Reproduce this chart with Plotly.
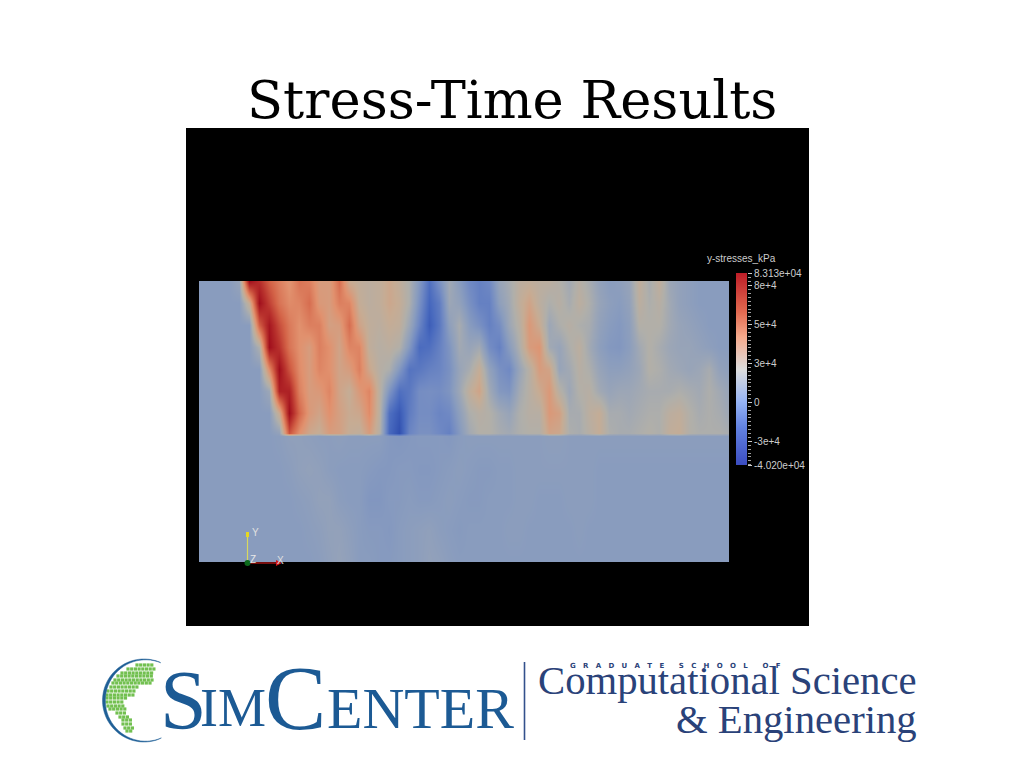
import math
import plotly.graph_objects as go

W, H = 1024, 768

# ---------- data (kPa in thousands) ----------
column_positions = [i * 10 for i in range(54)]
row_depths = [0, 22, 44, 66, 88, 110, 132, 152, 155, 189, 219, 249, 281]
stress_rows = [
 [0,0,0,0,6,83,72,56,46,38,50,46,34,34,52,26,22,20,22,28,22,14,-2,-22,-6,10,0,-10,-14,-10,6,12,20,22,20,20,16,10,18,12,4,0,2,6,22,12,22,8,4,2,0,0,0,0],
 [0,0,0,0,0,24,83,66,50,42,44,52,36,34,46,44,24,20,22,28,24,14,-6,-26,-16,8,4,-6,-14,-14,2,10,22,30,20,14,18,12,20,14,6,2,0,4,20,14,18,10,4,2,0,0,0,0],
 [0,0,0,0,0,0,56,80,62,48,40,46,46,32,34,52,30,22,20,24,22,8,-12,-30,-18,2,12,0,-6,-14,-8,8,18,36,26,8,14,18,14,12,4,0,-2,2,16,16,16,10,6,4,2,0,0,0],
 [0,0,0,0,0,0,14,83,70,50,40,34,46,40,30,44,44,22,18,20,16,-2,-24,-22,-14,-4,10,6,10,-8,-14,0,14,34,38,10,6,14,20,10,2,-2,-3,1,10,16,12,8,6,6,4,2,0,0],
 [0,0,0,0,0,0,0,42,83,60,42,34,44,40,30,34,46,28,18,14,-2,-20,-18,-14,-12,-6,6,12,24,4,-6,-10,6,18,34,30,6,10,18,14,6,2,2,4,8,16,14,10,8,6,8,12,4,2],
 [0,0,0,0,0,0,0,8,76,76,46,34,36,44,30,24,36,44,20,-4,-22,-18,-8,-7,-8,-4,8,22,30,10,-2,-4,10,18,26,36,18,8,16,18,10,6,8,8,10,12,12,12,14,12,10,14,10,6],
 [0,0,0,0,0,0,0,0,26,83,54,36,30,40,32,26,28,42,20,-22,-32,-16,-8,-8,-12,-10,2,14,18,16,10,6,14,18,18,36,32,12,12,20,24,12,12,10,12,14,14,20,22,16,12,14,12,8],
 [0,0,0,0,0,0,0,0,4,60,40,28,24,34,32,24,22,34,18,-25,-36,-12,-6,-6,-10,-14,-2,10,16,16,12,10,14,16,16,30,28,14,12,18,24,14,12,12,14,16,14,22,24,16,14,14,14,12],
 [0,0,0,0,0,0,0,0,1,3,3,2,1,1,2,1,1,1,1,-2,-3,-2,-1,-1,-1,-2,0,1,1,1,1,1,1,1,1,2,2,1,1,1,1,1,1,1,1,1,1,1,1,1,1,1,1,1],
 [0,0,0,0,0,0,0,0,0,1,3,4,3,1,0,0,0,-1,-2,-2,-1,-1,-2,-2,-1,0,1,0,-1,-1,0,0,1,1,1,1,1,1,1,1,0,0,0,0,0,0,0,0,0,0,0,0,0,0],
 [0,0,0,0,0,0,0,0,0,0,1,2,4,4,1,0,0,-3,-3,-1,-1,0,-1,-1,0,1,0,-1,-1,0,0,0,1,1,0,0,0,1,1,1,0,0,0,0,0,0,0,0,0,0,0,0,0,0],
 [0,0,0,0,0,0,0,0,0,0,0,1,2,4,4,2,0,-1,-1,-2,0,1,2,3,1,0,-1,0,0,0,0,1,1,0,0,0,0,0,1,0,0,0,0,0,0,0,0,0,0,0,0,0,0,0],
 [0,0,0,0,0,0,0,0,0,0,0,0,1,3,5,3,0,0,-1,-1,0,1,2,4,3,1,0,0,0,0,0,0,0,0,0,0,0,0,0,0,0,0,0,0,0,0,0,0,0,0,0,0,0,0],
]
assert all(len(r) == 54 for r in stress_rows) and len(stress_rows) == 13

stress_min, stress_max = -40.2, 83.13
colorbar_values = [-40200, -20000, 0, 10000, 21465, 35000, 50000, 65000, 83130]
colorbar_ticks = [83130, 75000, 50000, 25000, 0, -25000, -40200]
colorbar_labels = ["8.313e+04", "8e+4", "5e+4", "3e+4", "0", "-3e+4", "-4.020e+04"]
colorbar_title = "y-stresses_kPa"
title_text = "Stress-Time Results"

# green land cells of the logo globe: (row y, first x, last x) in page pixels
globe_rows = [(665,137,152),(669,128,155),(673,122,153),(676,118,152),(680,115,152),(683,113,152),
              (687,111,140),(691,108,135),(695,107,133),(698,107,128),(702,107,123),(706,108,123),
              (709,110,125),(713,117,127),(717,120,130),(720,123,132),(724,123,133),(728,125,135),(731,127,133)]

# ---------- helpers ----------
px = lambda x: x / W
py = lambda y: 1 - y / H

def muted(v):
    return (v - stress_min) / (stress_max - stress_min)

plot_scale = [
    [muted(-40.2), "rgb(40,70,170)"],
    [muted(-25), "rgb(72,105,190)"],
    [muted(-10), "rgb(112,137,195)"],
    [muted(0), "rgb(137,156,190)"],
    [muted(8), "rgb(156,166,182)"],
    [muted(15), "rgb(176,175,170)"],
    [muted(25), "rgb(198,172,148)"],
    [muted(40), "rgb(225,145,110)"],
    [muted(55), "rgb(212,100,72)"],
    [muted(70), "rgb(185,50,45)"],
    [muted(83.13), "rgb(160,14,28)"],
]
bar_scale = [[0, "rgb(59,76,192)"], [0.2, "rgb(98,130,225)"], [0.33, "rgb(150,180,245)"],
             [0.5, "rgb(221,221,221)"], [0.67, "rgb(245,170,140)"], [0.8, "rgb(225,105,80)"], [1, "rgb(190,30,40)"]]

fig = go.Figure()
fig.add_trace(go.Heatmap(x=column_positions, y=row_depths, z=stress_rows, zmin=stress_min, zmax=stress_max,
                         zsmooth="best", colorscale=plot_scale, showscale=False,
                         xaxis="x", yaxis="y", hoverinfo="skip"))
fig.add_trace(go.Heatmap(x=[0, 1], y=colorbar_values, z=[[v, v] for v in colorbar_values],
                         zmin=-40200, zmax=83130, zsmooth="best", colorscale=bar_scale, showscale=False,
                         xaxis="x2", yaxis="y2", hoverinfo="skip"))

gx, gy = [], []
for y, a, b in globe_rows:
    x = a
    while x <= b:
        gx.append(x); gy.append(y)
        x += 3.7
fig.add_trace(go.Scatter(x=gx, y=gy, mode="markers", xaxis="x3", yaxis="y3", hoverinfo="skip",
                         marker=dict(symbol="square", size=3.2, color="#72c050", line=dict(width=0))))

shapes = [
    dict(type="rect", xref="paper", yref="paper", x0=px(186), x1=px(809), y0=py(626), y1=py(128),
         fillcolor="black", line=dict(width=0), layer="below"),
    dict(type="line", xref="paper", yref="paper", x0=px(247.5), x1=px(247.5), y0=py(563), y1=py(534),
         line=dict(color="#d8d860", width=1.2)),
    dict(type="rect", xref="paper", yref="paper", x0=px(246), x1=px(249), y0=py(537), y1=py(532),
         fillcolor="#e6d820", line=dict(width=0)),
    dict(type="line", xref="paper", yref="paper", x0=px(250), x1=px(278), y0=py(563), y1=py(563),
         line=dict(color="#c81818", width=1.2)),
    dict(type="path", xref="paper", yref="paper",
         path=f"M {px(276)} {py(560)} L {px(282)} {py(563)} L {px(276)} {py(566)} Z",
         fillcolor="#d01818", line=dict(width=0)),
    dict(type="circle", xref="paper", yref="paper", x0=px(244.5), x1=px(250.5), y0=py(566), y1=py(560),
         fillcolor="#0c6a1c", line=dict(width=0)),
    dict(type="line", xref="paper", yref="paper", x0=px(524.5), x1=px(524.5), y0=py(662), y1=py(740),
         line=dict(color="#33518c", width=1.6)),
]

cx, cy, R = 144.0, 700.5, 41.5
outer = [(cx + R * math.cos(math.radians(a)), cy + R * math.sin(math.radians(a))) for a in range(-68, -293, -5)]
inner = [(cx + 1.6 + (R - 1.2) * math.cos(math.radians(a)), cy + (R - 0.8) * math.sin(math.radians(a))) for a in range(-293, -67, 5)]
pts = outer + inner
path = "M " + " L ".join(f"{px(a)} {py(b)}" for a, b in pts) + " Z"
shapes.append(dict(type="path", xref="paper", yref="paper", path=path, fillcolor="#1f5f96", line=dict(width=0.5, color="#1f5f96")))

def note(text, x, y, size, color, family="Liberation Serif", anchor="left"):
    return dict(text=text, x=px(x), y=py(y), xref="paper", yref="paper", showarrow=False,
                xanchor=anchor, yanchor="middle", font=dict(family=family, size=size, color=color),
                borderpad=0, borderwidth=0)

logo = "#1c5a94"
navy = "#2a4279"
sp = "\u00a0"
graduate = "<b>" + (sp * 3).join("GRADUATE") + sp * 6 + (sp * 3).join("SCHOOL") + sp * 6 + (sp * 3).join("OF") + "</b>"
annotations = [
    note(title_text, 512, 99, 52.7, "black", "DejaVu Serif", "center"),
    note(colorbar_title, 741, 259, 10, "#cccccc", "Liberation Sans", "center"),
    note("Y", 252, 532, 10, "#e0e0e0", "Liberation Sans"),
    note("Z", 250, 559, 10, "#e8e8e8", "Liberation Sans"),
    note("X", 277, 560, 10, "#e0e0e0", "Liberation Sans"),
    note("S", 160, 700, 84, logo),
    note("IM", 200, 708, 54, logo),
    note("C", 265, 698, 92, logo),
    note("ENTER", 327, 708, 58, logo),
    note("Computational Science", 917, 680, 40.7, navy, anchor="right"),
    note("&amp; Engineering", 917, 719, 40.7, navy, anchor="right"),
    note(graduate, 570, 666, 7, navy, "DejaVu Sans"),
]

fig.update_layout(
    template="none",
    width=W, height=H, margin=dict(l=0, r=0, t=0, b=0, pad=0), autosize=False,
    paper_bgcolor="white", plot_bgcolor="rgba(0,0,0,0)", showlegend=False,
    shapes=shapes, annotations=annotations,
    xaxis=dict(domain=[px(199), px(729)], range=[0, 530], visible=False, anchor="y", automargin=False),
    yaxis=dict(domain=[py(562), py(281)], range=[281, 0], visible=False, anchor="x", automargin=False),
    xaxis2=dict(domain=[px(736), px(747)], range=[0, 1], visible=False, anchor="y2", automargin=False),
    yaxis2=dict(domain=[py(465), py(273)], range=[-40200, 83130], anchor="x2", side="right", automargin=False,
                showgrid=False, zeroline=False, showline=False, ticks="outside", ticklen=4, tickwidth=1,
                tickcolor="#cccccc", tickmode="array", tickvals=colorbar_ticks, ticktext=colorbar_labels,
                tickfont=dict(family="Liberation Sans", size=10, color="#cccccc"),
                minor=dict(ticks="outside", ticklen=3, tickwidth=1, tickcolor="#a0a0a0", dtick=2500, tick0=0, showgrid=False)),
    xaxis3=dict(domain=[0, 1], range=[0, W], visible=False, anchor="y3", automargin=False),
    yaxis3=dict(domain=[0, 1], range=[H, 0], visible=False, anchor="x3", automargin=False),
)

fig.write_html("out.html", config=dict(displayModeBar=False),
               post_script="document.body.style.margin='0';document.body.style.overflow='hidden';")
